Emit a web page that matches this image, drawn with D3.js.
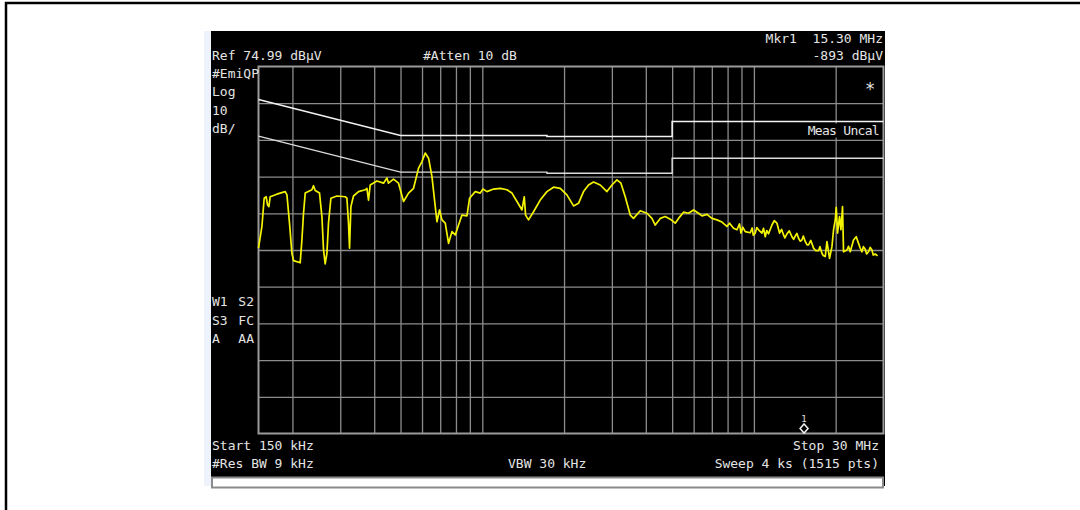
<html>
<head>
	<meta content="text/html;charset=utf-8" http-equiv="Content-Type">
	<style>
		body {
			margin: 0;
			background: white;
		}
		svg text {
			font-family: "DejaVu Sans Mono", "Liberation Mono", monospace;
			font-size: 13px;
			fill: #e4e4e4;
			white-space: pre;
		}
	</style>
	<script src="https://cdn.jsdelivr.net/npm/d3@7"></script>
</head>
<body>
	<svg id="Screen"></svg>
</body>
<script>
	// analyzer settings
	let refLevel = 74.99
	let dbPerDiv = 10
	let divisions = 10
	let startMHz = 0.15
	let stopMHz = 30
	let markerMHz = 15.30

	// vertical log grid lines (MHz)
	let freqGrid = [0.2, 0.3, 0.4, 0.5, 0.6, 0.7, 0.8, 0.9, 1, 2, 3, 4, 5, 6, 7, 8, 9, 10, 20]

	// limit lines: quasi-peak and average
	let limitFreq = [0.15, 0.5, 1.73, 1.73, 5, 5, 30]
	let qpLimit = [66, 56.2, 56.2, 55.9, 55.9, 60, 60]
	let avLimit = [56, 46.2, 46.2, 45.9, 45.9, 50, 50]

	let traceFreq = [0.150, 0.1544, 0.1574, 0.1601, 0.1619, 0.1638, 0.1656, 0.1753, 0.1881, 0.1909,
		0.1951, 0.1991, 0.2019, 0.2136, 0.2167, 0.2197, 0.2229, 0.2359, 0.2391, 0.2426,
		0.2516, 0.2568, 0.2603, 0.2640, 0.2679, 0.2715, 0.2771, 0.2916, 0.3128, 0.3174,
		0.3217, 0.3245, 0.3283, 0.3356, 0.3502, 0.3707, 0.3760, 0.3812, 0.3867, 0.4093,
		0.4329, 0.4455, 0.4516, 0.4712, 0.4916, 0.5129, 0.5352, 0.5584, 0.5826, 0.5996,
		0.6166, 0.6341, 0.6527, 0.6712, 0.6809, 0.6961, 0.7104, 0.7306, 0.7513, 0.7733,
		0.7952, 0.8178, 0.8417, 0.8782, 0.8978, 0.9422, 0.9831, 1.0059, 1.0405, 1.1004,
		1.1646, 1.2327, 1.2861, 1.3418, 1.4000, 1.4275, 1.4433, 1.4798, 1.5440, 1.6341,
		1.7297, 1.8293, 1.9363, 2.0493, 2.1672, 2.2609, 2.3589, 2.4612, 2.5679, 2.7179,
		2.8766, 3.0013, 3.1314, 3.2394, 3.3597, 3.5052, 3.6047, 3.8151, 4.0380, 4.2131,
		4.3326, 4.5203, 4.7160, 4.9203, 5.1335, 5.2791, 5.5077, 5.7459, 5.9948, 6.2544,
		6.4373, 6.7157, 7.0068, 7.3101, 7.6268, 7.9571, 8.1345, 8.4150, 8.6610, 8.8540,
		8.9597, 9.10, 9.2920, 9.6945, 9.85, 9.95, 10.114, 10.25, 10.402, 10.706,
		10.85, 11.009, 11.15, 11.322, 11.653, 11.882, 12.158, 12.429, 12.65, 12.857,
		13.0, 13.233, 13.5, 13.806, 14.0, 14.197, 14.4, 14.600, 14.8, 15.026,
		15.2, 15.452, 15.7, 15.891, 16.2, 16.580, 16.9, 17.298, 17.5, 17.803,
		18.0, 18.309, 18.575, 18.988, 19.378, 19.643, 19.928, 20.097, 20.320, 20.667,
		20.914, 21.200, 21.380, 22.005, 22.3, 22.629, 23.271, 23.810, 24.279, 24.6,
		24.989, 25.3, 25.698, 26.0, 26.427, 26.8, 27.200, 27.5, 27.972, 28.523]
	let traceLevel = [25.5, 31.4, 39.1, 39.5, 37.3, 36.8, 39.5, 40.2, 40.9, 40.0,
		32.3, 24.1, 22.1, 21.5, 27.7, 35.0, 40.5, 41.4, 42.5, 41.2,
		40.5, 34.1, 25.0, 21.2, 24.1, 32.3, 39.1, 39.7, 39.5, 39.1,
		32.3, 25.5, 36.8, 39.7, 40.9, 41.4, 41.8, 38.6, 42.7, 43.8,
		43.2, 44.6, 43.2, 44.3, 43.2, 38.2, 40.5, 41.8, 47.3, 49.1,
		51.4, 50.0, 45.0, 36.8, 32.7, 35.9, 33.2, 32.3, 26.8, 30.0,
		29.1, 31.8, 34.5, 34.3, 39.1, 40.9, 40.5, 41.6, 40.9, 41.6,
		41.8, 41.4, 40.5, 38.2, 35.9, 39.5, 34.5, 33.2, 35.4, 38.6,
		40.9, 42.1, 41.8, 40.0, 37.0, 37.7, 40.9, 42.7, 43.5, 42.7,
		40.9, 42.7, 44.1, 43.2, 39.5, 34.5, 33.6, 35.7, 35.0, 33.6,
		31.8, 33.6, 34.1, 33.4, 32.3, 33.6, 35.3, 35.0, 35.9, 35.0,
		34.3, 34.7, 33.6, 33.2, 32.6, 31.4, 32.3, 30.9, 30.5, 32.1,
		29.6, 31.2, 30.0, 29.7, 31.0, 29.0, 29.6, 31.1, 30.5, 29.6,
		30.9, 28.6, 30.3, 29.4, 31.8, 33.0, 32.3, 29.6, 30.6, 29.1,
		28.3, 29.4, 30.2, 28.6, 27.9, 28.8, 29.5, 28.2, 27.4, 27.7,
		28.8, 27.3, 26.4, 26.4, 27.6, 25.5, 24.8, 24.8, 25.9, 24.1,
		23.5, 23.2, 27.3, 22.7, 25.9, 30.5, 33.2, 36.6, 29.6, 34.1,
		30.5, 36.8, 24.5, 25.0, 26.0, 24.5, 27.7, 28.6, 26.8, 25.6,
		24.5, 25.9, 25.2, 23.9, 24.5, 25.7, 25.0, 23.6, 23.9, 23.4]

	// screen labels
	let topLabels = [
		{ text: "Ref 74.99 dBμV", x: 212, y: 60, anchor: "start" },
		{ text: "#Atten 10 dB", x: 423, y: 60, anchor: "start" },
		{ text: "Mkr1  15.30 MHz", x: 883, y: 43, anchor: "end" },
		{ text: "-893 dBμV", x: 883, y: 60, anchor: "end" },
	]
	let sideLabels = ["#EmiQP", "Log", "10", "dB/"]
	let statusLeft = ["W1", "S3", "A"]
	let statusRight = ["S2", "FC", "AA"]
	let bottomLabels = [
		{ text: "Start 150 kHz", x: 212, y: 450, anchor: "start" },
		{ text: "Stop 30 MHz", x: 879, y: 450, anchor: "end" },
		{ text: "#Res BW 9 kHz", x: 212, y: 468, anchor: "start" },
		{ text: "VBW 30 kHz", x: 508, y: 468, anchor: "start" },
		{ text: "Sweep 4 ks (1515 pts)", x: 879, y: 468, anchor: "end" },
	]

	function getConfig() {
		let width = 1080
		let height = 510
		let plot = { left: 258.5, right: 883.5, top: 66.5, bottom: 433.5 }
		let container = d3.select("#Screen")
			.attr("width", width)
			.attr("height", height)
		return { width, height, plot, container }
	}

	function getScales(config) {
		let { plot } = config
		let xScale = d3.scaleLog()
			.domain([startMHz, stopMHz])
			.range([plot.left, plot.right])
		let yScale = d3.scaleLinear()
			.domain([refLevel - divisions * dbPerDiv, refLevel])
			.range([plot.bottom, plot.top])
		return { xScale, yScale }
	}

	function drawFrame(config) {
		let { container } = config
		// page border (top and left only)
		container.append("path")
			.attr("d", "M6,510 V3 H1080")
			.attr("fill", "none")
			.attr("stroke", "black")
			.attr("stroke-width", 2.5)
		container.append("rect")
			.attr("x", 204).attr("y", 31)
			.attr("width", 8).attr("height", 455)
			.attr("fill", "#eef2fa")
		container.append("rect")
			.attr("x", 211).attr("y", 31)
			.attr("width", 674).attr("height", 455)
			.attr("fill", "black")
		container.append("rect")
			.attr("x", 212).attr("y", 477.5)
			.attr("width", 671).attr("height", 10)
			.attr("fill", "white")
			.attr("stroke", "#8a8a8a")
			.attr("stroke-width", 2)
	}

	function drawGrid(scales, config) {
		let { xScale, yScale } = scales
		let { plot, container } = config
		let h = plot.bottom - plot.top
		let w = plot.right - plot.left

		let gridX = d3.axisBottom(xScale)
			.tickValues(freqGrid)
			.tickSize(-h)
			.tickFormat("")
		container.append("g")
			.attr("transform", `translate(0,${plot.bottom})`)
			.call(gridX)
			.call(g => g.select(".domain").remove())
			.selectAll("line")
			.attr("stroke", "#8c8c8c")
			.attr("stroke-width", 1.3)

		let levels = d3.range(1, divisions).map(i => refLevel - i * dbPerDiv)
		let gridY = d3.axisLeft(yScale)
			.tickValues(levels)
			.tickSize(-w)
			.tickFormat("")
		container.append("g")
			.attr("transform", `translate(${plot.left},0)`)
			.call(gridY)
			.call(g => g.select(".domain").remove())
			.selectAll("line")
			.attr("stroke", "#8c8c8c")
			.attr("stroke-width", 1.3)

		container.append("rect")
			.attr("x", plot.left).attr("y", plot.top)
			.attr("width", w).attr("height", h)
			.attr("fill", "none")
			.attr("stroke", "#9a9a9a")
			.attr("stroke-width", 2)
	}

	function drawLimits(scales, config) {
		let { xScale, yScale } = scales
		let { container } = config
		let line = d3.line()
			.x(d => xScale(d[0]))
			.y(d => yScale(d[1]))
		container.append("path")
			.datum(d3.zip(limitFreq, qpLimit))
			.attr("d", line)
			.attr("fill", "none")
			.attr("stroke", "#f2f2f2")
			.attr("stroke-width", 1.6)
		container.append("path")
			.datum(d3.zip(limitFreq, avLimit))
			.attr("d", line)
			.attr("fill", "none")
			.attr("stroke", "#dcdcdc")
			.attr("stroke-width", 1.4)
	}

	function drawTrace(scales, config) {
		let { xScale, yScale } = scales
		let { container } = config
		let line = d3.line()
			.x(d => xScale(d[0]))
			.y(d => yScale(d[1]))
		container.append("path")
			.datum(d3.zip(traceFreq, traceLevel))
			.attr("d", line)
			.attr("fill", "none")
			.attr("stroke", "#f4f400")
			.attr("stroke-width", 1.7)
			.attr("stroke-linejoin", "round")
	}

	function drawMarker(scales, config) {
		let { xScale } = scales
		let { plot, container } = config
		let mx = xScale(markerMHz)
		let my = plot.bottom - 5
		container.append("path")
			.attr("d", `M${mx},${my - 4.5} L${mx + 4},${my} L${mx},${my + 4.5} L${mx - 4},${my} Z`)
			.attr("fill", "none")
			.attr("stroke", "#f0f0f0")
			.attr("stroke-width", 1.5)
		container.append("text")
			.attr("x", mx).attr("y", my - 7)
			.attr("text-anchor", "middle")
			.style("font-size", "9px")
			.text("1")
	}

	function drawLabels(config) {
		let { container } = config
		let all = topLabels.concat(bottomLabels)
		container.selectAll(".lbl")
			.data(all)
			.enter().append("text")
			.attr("class", "lbl")
			.attr("x", d => d.x)
			.attr("y", d => d.y)
			.attr("text-anchor", d => d.anchor)
			.text(d => d.text)

		container.selectAll(".side")
			.data(sideLabels)
			.enter().append("text")
			.attr("class", "side")
			.attr("x", 212)
			.attr("y", (d, i) => 78 + i * 18.3)
			.text(d => d)

		container.selectAll(".statL")
			.data(statusLeft)
			.enter().append("text")
			.attr("class", "statL")
			.attr("x", 212)
			.attr("y", (d, i) => 306 + i * 18.5)
			.text(d => d)
		container.selectAll(".statR")
			.data(statusRight)
			.enter().append("text")
			.attr("class", "statR")
			.attr("x", 254)
			.attr("y", (d, i) => 306 + i * 18.5)
			.attr("text-anchor", "end")
			.text(d => d)

		// star and "Meas Uncal" sit on black boxes over the grid
		container.append("text")
			.attr("x", 870).attr("y", 95)
			.attr("text-anchor", "middle")
			.style("font-size", "17px")
			.text("*")
		container.append("rect")
			.attr("x", 806).attr("y", 123.5)
			.attr("width", 76).attr("height", 14)
			.attr("fill", "black")
		container.append("text")
			.attr("x", 879).attr("y", 135)
			.attr("text-anchor", "end")
			.style("letter-spacing", "-0.7px")
			.text("Meas Uncal")
	}

	function draw() {
		let config = getConfig()
		let scales = getScales(config)
		drawFrame(config)
		drawGrid(scales, config)
		drawLimits(scales, config)
		drawTrace(scales, config)
		drawMarker(scales, config)
		drawLabels(config)
	}

	draw()
</script>
</html>
